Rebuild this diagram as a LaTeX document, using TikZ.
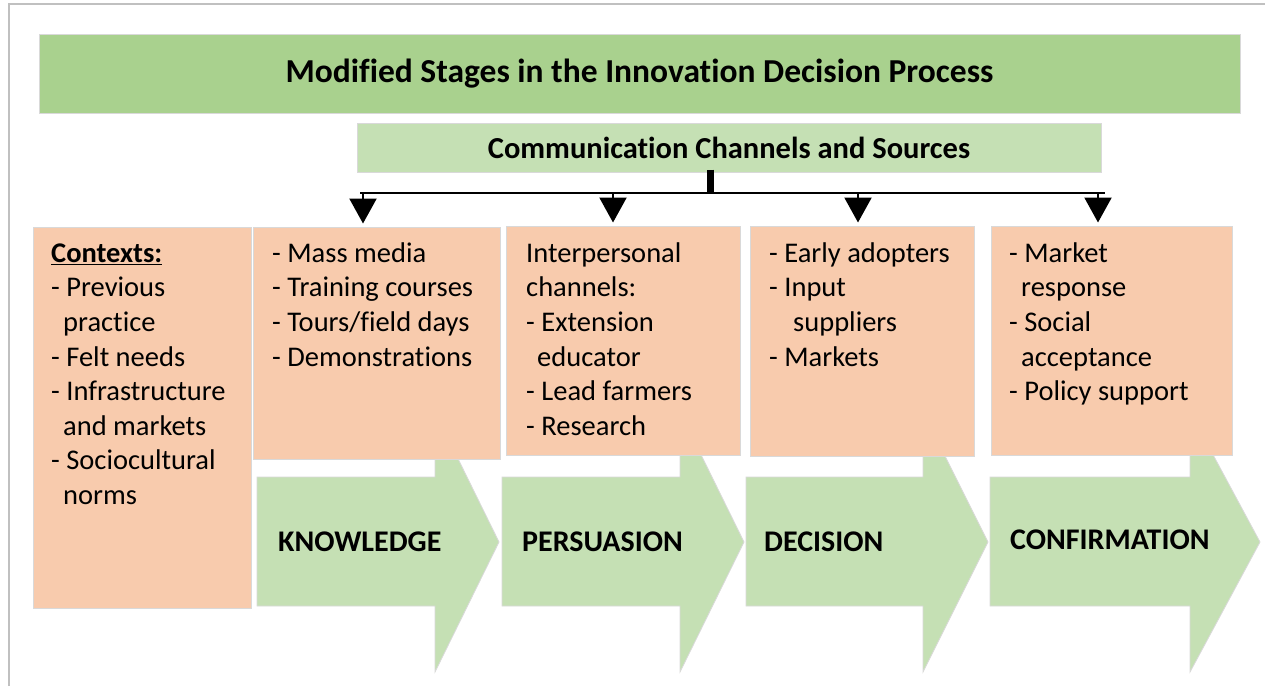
\documentclass[tikz,border=0pt]{standalone}
\usepackage{fontspec}
\setmainfont{Carlito}[Ligatures=NoCommon]
\usetikzlibrary{arrows.meta}
\definecolor{titlegreen}{HTML}{A9D18E}
\definecolor{lightgreen}{HTML}{C5E0B4}
\definecolor{peach}{HTML}{F8CBAD}
\definecolor{edgegray}{HTML}{D9D9D9}
\definecolor{framegray}{HTML}{C0C0C0}
\newcommand{\chevronshape}[3]{%
  \filldraw[chev] (#1,477) -- (#2,477) -- (#2,412) -- (#3,542) -- (#2,672) -- (#2,606) -- (#1,606) -- cycle;}
\begin{document}
\begin{tikzpicture}[x=1pt,y=-1pt,
  chev/.style={fill=lightgreen, draw=edgegray, line width=0.8pt},
  panel/.style={fill=peach, draw=edgegray, line width=1pt, anchor=north west, inner sep=0pt},
  txt/.style={anchor=north west, inner sep=0pt, align=left, font=\fontsize{28.5}{34.6}\selectfont},
  lab/.style={anchor=base west, inner sep=0pt, font=\fontsize{30}{36}\selectfont\bfseries},
  bus/.style={line width=2.2pt},
  arr/.style={line width=2.2pt, -{Triangle[width=27pt,length=25pt]}, shorten >=3.5pt}]
\useasboundingbox (0,0) rectangle (1265,686);
\fill[white] (0,0) rectangle (1265,686);
% outer frame
\draw[framegray, line width=2pt] (9,686) -- (9,4) -- (1265,4);

% title and channel boxes
\node[fill=titlegreen, draw=edgegray, line width=1pt, minimum width=1201pt, minimum height=79pt, inner sep=0pt,
      font=\fontsize{33.5}{40}\selectfont\bfseries] (title) at (639.5,73.5) {Modified Stages in the Innovation Decision Process};
\node[fill=lightgreen, draw=edgegray, line width=1pt, minimum width=744pt, minimum height=49pt, inner sep=0pt,
      font=\fontsize{30.5}{36}\selectfont\bfseries] (comm) at (729,147.5) {Communication Channels and Sources};

% stage chevrons (drawn below the panels)
\chevronshape{257}{435}{499}
\chevronshape{502}{680}{744}
\chevronshape{746}{923}{988}
\chevronshape{990}{1190}{1260}
\node[lab] (know) at (278,551) {KNOWLEDGE};
\node[lab] (pers) at (522,551) {PERSUASION};
\node[lab] (deci) at (764,551) {DECISION};
\node[lab] (conf) at (1010,549) {CONFIRMATION};

% panels
\node[panel, minimum width=218pt, minimum height=381pt] (ctx) at (33,227) {};
\node[panel, minimum width=247pt, minimum height=232pt] (p1) at (253,227) {};
\node[panel, minimum width=234pt, minimum height=229pt] (p2) at (506,226) {};
\node[panel, minimum width=224pt, minimum height=230pt] (p3) at (750,226) {};
\node[panel, minimum width=241pt, minimum height=229pt] (p4) at (991,226) {};

\node[txt] (ctxt) at (51,237.8) {\strut\underline{\textbf{Contexts:}}\\\strut - Previous\\\strut\hspace*{12pt}practice\\\strut - Felt needs\\\strut - Infrastructure\\\strut\hspace*{12pt}and markets\\\strut - Sociocultural\\\strut\hspace*{12pt}norms};
\node[txt] (t1) at (272,237.8) {\strut - Mass media\\\strut - Training courses\\\strut - Tours/field days\\\strut - Demonstrations};
\node[txt] (t2) at (526,237.8) {\strut Interpersonal\\\strut channels:\\\strut - Extension\\\strut\hspace*{11pt}educator\\\strut - Lead farmers\\\strut - Research};
\node[txt] (t3) at (769,237.8) {\strut - Early adopters\\\strut - Input\\\strut\hspace*{24pt}suppliers\\\strut - Markets};
\node[txt] (t4) at (1009,237.8) {\strut - Market\\\strut\hspace*{12pt}response\\\strut - Social\\\strut\hspace*{12pt}acceptance\\\strut - Policy support};

% connectors
\coordinate (stubx) at (710,193);
\coordinate (busL) at (360,193);
\coordinate (busR) at (1105,193);
\draw[line width=7pt] ([yshift=3pt]comm.south -| stubx) -- (stubx);
\draw[bus] (busL) -- (busR);
\coordinate (a1) at (363,193);
\coordinate (a2) at (613,193);
\coordinate (a3) at (858,193);
\coordinate (a4) at (1098,193);
\draw[arr] (a1) -- (a1 |- p1.north);
\draw[arr] (a2) -- (a2 |- p2.north);
\draw[arr] (a3) -- (a3 |- p3.north);
\draw[arr] (a4) -- (a4 |- p4.north);
\end{tikzpicture}
\end{document}
